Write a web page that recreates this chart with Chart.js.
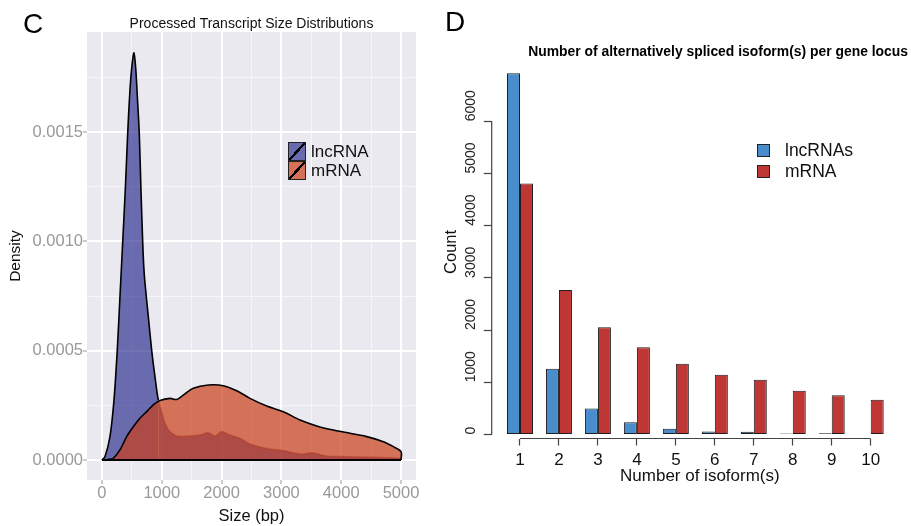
<!DOCTYPE html>
<html>
<head>
<meta charset="utf-8">
<script src="https://cdn.jsdelivr.net/npm/chart.js@4.4.0/dist/chart.umd.min.js"></script>
<style>
  html, body { margin: 0; padding: 0; background: #fff; }
  body { width: 911px; height: 526px; position: relative; overflow: hidden; font-family: "Liberation Sans", Arial, sans-serif; }
  canvas { position: absolute; top: 0; }
  .tag { position: absolute; font-size: 28px; line-height: 28px; color: #000; }
  .legend { position: absolute; color: #111; }
  .legend .row { display: flex; align-items: center; }
</style>
</head>
<body>
<canvas id="density" width="430" height="526" style="left:0"></canvas>
<canvas id="isoforms" width="481" height="526" style="left:430px"></canvas>
<div class="tag" style="left:23px;top:10px">C</div>
<div class="tag" style="left:445px;top:8px">D</div>
<div id="legendC" class="legend" style="left:288px;top:142px"></div>
<div id="legendD" class="legend" style="left:757px;top:139.5px"></div>
<script>
// panel C - size distributions (bp vs density)
const lncSize = [0, 50, 134, 201, 256, 301, 340, 390, 430, 468, 500, 535, 565, 590, 624, 652, 680, 700, 719, 775, 831, 886, 942, 1000, 1054, 1137, 1249, 1360, 1472, 1639, 1778, 1890, 2001, 2140, 2308, 2475, 2754, 3032, 3311, 3506, 3757, 4147, 4593, 5000, 5000];
const lncDensity = [0, 0.000015, 0.000107, 0.000274, 0.000503, 0.000747, 0.00096, 0.001235, 0.001494, 0.001693, 0.0018, 0.001863, 0.00179, 0.00167, 0.001494, 0.001235, 0.001006, 0.00088, 0.00081, 0.000656, 0.000503, 0.000381, 0.000274, 0.00022, 0.000168, 0.00013, 0.00011, 0.000108, 0.00011, 0.000114, 0.000125, 0.00011, 0.00013, 0.000114, 0.000099, 0.000073, 0.000053, 0.000043, 0.000027, 0.000033, 0.000018, 0.000015, 0.000012, 0.000008, 0];
const mrnaSize = [0, 100, 189, 301, 413, 524, 635, 747, 858, 970, 1137, 1249, 1360, 1527, 1778, 2029, 2252, 2475, 2754, 3032, 3311, 3590, 3868, 4147, 4426, 4704, 4872, 5000, 5000];
const mrnaDensity = [0, 0.000002, 0.000008, 0.000046, 0.000107, 0.000152, 0.000191, 0.000221, 0.000252, 0.000272, 0.000282, 0.000277, 0.000297, 0.000328, 0.000343, 0.00034, 0.000317, 0.000282, 0.000247, 0.000221, 0.000183, 0.000156, 0.000137, 0.000122, 0.000107, 0.000084, 0.000061, 0.000038, 0];
const sizeTicks = [0, 500, 1000, 1500, 2000, 2500, 3000, 3500, 4000, 4500, 5000];
const densityTicks = [0, 0.00025, 0.0005, 0.00075, 0.001, 0.00125, 0.0015, 0.00175];

// panel D - isoforms per gene locus
const isoforms = [1, 2, 3, 4, 5, 6, 7, 8, 9, 10];
const lncCounts = [6920, 1260, 500, 235, 110, 55, 50, 20, 22, 8];
const mrnaCounts = [4810, 2770, 2055, 1670, 1355, 1145, 1050, 840, 750, 665];
const countTicks = [0, 1000, 2000, 3000, 4000, 5000, 6000];

Chart.defaults.font.family = '"Liberation Sans", Arial, sans-serif';
Chart.defaults.color = '#111';

const pts = (xs, ys) => xs.map((x, i) => ({x, y: ys[i]}));

// grey ggplot-like panel behind the grid
const panelBg = {
  id: 'panelBg',
  beforeDraw(chart, args, opts) {
    const {ctx, chartArea: a} = chart;
    ctx.save();
    ctx.fillStyle = opts.color;
    ctx.fillRect(a.left, a.top, a.right - a.left, a.bottom - a.top);
    ctx.restore();
  }
};

// base R style axis lines: only from first to last tick
const rAxes = {
  id: 'rAxes',
  afterDraw(chart) {
    const {ctx, chartArea: a, scales: {x, y}} = chart;
    const xs = x.ticks.map(t => x.getPixelForValue(t.value));
    const ys = y.ticks.map(t => y.getPixelForValue(t.value));
    ctx.save();
    ctx.strokeStyle = '#444';
    ctx.lineWidth = 1.2;
    ctx.beginPath();
    ctx.moveTo(xs[0], a.bottom);
    ctx.lineTo(xs[xs.length - 1], a.bottom);
    ctx.moveTo(a.left, ys[0]);
    ctx.lineTo(a.left, ys[ys.length - 1]);
    ctx.stroke();
    ctx.restore();
  }
};

const ggGrid = {
  color: c => c.index % 2 ? 'rgba(255,255,255,0.6)' : '#fff',
  lineWidth: c => c.index % 2 ? 1 : 2,
  tickColor: c => c.index % 2 ? 'rgba(0,0,0,0)' : '#9a9a9a',
  tickLength: 4,
  tickWidth: 1
};

const densityChart = new Chart(document.getElementById('density'), {
  type: 'line',
  data: {
    datasets: [
      {
        label: 'lncRNA', data: pts(lncSize, lncDensity), order: 1, fill: 'origin',
        backgroundColor: 'rgba(21,21,130,0.6)', borderColor: '#000', borderWidth: 1.6,
        segment: { borderColor: c => c.p0.parsed.x >= 942 ? 'rgba(110,30,45,0.45)' : undefined }
      },
      {
        label: 'mRNA', data: pts(mrnaSize, mrnaDensity), order: 0, fill: 'origin',
        backgroundColor: 'rgba(203,63,26,0.7)', borderColor: '#000', borderWidth: 1.6
      },
      { label: '', data: pts([0, 5000], [0, 0]), order: -1, fill: false, borderColor: '#000', borderWidth: 1.8 }
    ]
  },
  options: {
    responsive: false,
    animation: false,
    layout: { padding: { left: 0, right: 14, top: 0, bottom: 0 } },
    elements: { point: { radius: 0 }, line: { tension: 0.3 } },
    scales: {
      x: {
        type: 'linear', min: -250, max: 5250, bounds: 'data',
        afterBuildTicks: s => { s.ticks = sizeTicks.map(v => ({value: v})); },
        afterFit: s => { s.height = 46; },
        border: { display: false },
        grid: ggGrid,
        ticks: { autoSkip: false, maxRotation: 0, padding: 0, color: '#999', font: { size: 16.5 },
          callback: (v, i) => i % 2 ? '' : String(v) },
        title: { display: true, text: 'Size (bp)', color: '#111', font: { size: 16.5 }, padding: { top: 0, bottom: 0 } }
      },
      y: {
        type: 'linear', min: -0.0000915, max: 0.001958, bounds: 'data',
        afterBuildTicks: s => { s.ticks = densityTicks.map(v => ({value: v})); },
        afterFit: s => { s.width = 87; },
        border: { display: false },
        grid: ggGrid,
        ticks: { autoSkip: false, padding: 0, color: '#999', font: { size: 16.5 },
          callback: (v, i) => i % 2 ? '' : v.toFixed(4) },
        title: { display: true, text: 'Density', color: '#111', font: { size: 15.5 }, padding: { top: 6.7, bottom: 0 } }
      }
    },
    plugins: {
      panelBg: { color: '#e9e9ef' },
      legend: { display: false },
      tooltip: { enabled: false },
      title: {
        display: true, fullSize: false, text: 'Processed Transcript Size Distributions',
        color: '#111', font: { size: 14, weight: 'normal' }, padding: { top: 15.6, bottom: -0.4 }
      }
    }
  },
  plugins: [panelBg]
});

const isoformChart = new Chart(document.getElementById('isoforms'), {
  type: 'bar',
  data: {
    datasets: [
      { label: 'lncRNAs', data: pts(isoforms, lncCounts), backgroundColor: '#4a8dcc' },
      { label: 'mRNA', data: pts(isoforms, mrnaCounts), backgroundColor: '#be3734' }
    ]
  },
  options: {
    responsive: false,
    animation: false,
    layout: { padding: { left: 0, right: 3, top: 0, bottom: 0 } },
    datasets: { bar: { barPercentage: 1, categoryPercentage: 0.667, borderWidth: 1, borderColor: '#1e1e1e', borderSkipped: false } },
    scales: {
      x: {
        type: 'linear', offset: false, min: 0.274, max: 10.957, bounds: 'data',
        afterBuildTicks: s => { s.ticks = isoforms.map(v => ({value: v})); },
        afterFit: s => { s.height = 87.5; },
        border: { display: false },
        grid: { offset: false, drawOnChartArea: false, tickLength: 7, tickColor: '#444', tickWidth: 1.2 },
        ticks: { autoSkip: false, maxRotation: 0, padding: 5, color: '#111', font: { size: 17 }, callback: v => String(v) },
        title: { display: true, text: 'Number of isoform(s)', color: '#111', font: { size: 17 }, padding: { top: 0, bottom: 39 } }
      },
      y: {
        type: 'linear', min: -77, max: 7071, bounds: 'data',
        afterBuildTicks: s => { s.ticks = countTicks.map(v => ({value: v})); },
        afterFit: s => { s.width = 61.7; },
        border: { display: false },
        grid: { drawOnChartArea: false, tickLength: 8, tickColor: '#444', tickWidth: 1.2 },
        // R prints these parallel to the axis, starting at the tick
        ticks: { autoSkip: false, minRotation: 90, maxRotation: 90, mirror: true, crossAlign: 'near', padding: -20.7,
          color: '#222', font: { size: 14 }, callback: v => String(v) },
        title: { display: true, text: 'Count', color: '#111', font: { size: 16.5 }, padding: { top: 11.1, bottom: 0 } }
      }
    },
    plugins: {
      legend: { display: false },
      tooltip: { enabled: false },
      title: {
        display: true, align: 'end', text: 'Number of alternatively spliced isoform(s) per gene locus',
        color: '#000', font: { size: 13.9, weight: 'bold' }, padding: { top: 43.35, bottom: 5.35 }
      }
    }
  },
  plugins: [rAxes]
});

// html legends built from the chart datasets
function htmlLegend(chart, id, keyStyle, rowHeight, gap, fontSize) {
  const box = document.getElementById(id);
  chart.data.datasets.filter(d => d.label).forEach(d => {
    const row = document.createElement('div');
    row.className = 'row';
    row.style.height = rowHeight + 'px';
    const sw = document.createElement('span');
    Object.assign(sw.style, keyStyle(d));
    const txt = document.createElement('span');
    txt.textContent = d.label;
    txt.style.marginLeft = gap + 'px';
    txt.style.fontSize = fontSize + 'px';
    txt.style.lineHeight = rowHeight + 'px';
    row.append(sw, txt);
    box.append(row);
  });
}

htmlLegend(densityChart, 'legendC', d => ({
  display: 'block', boxSizing: 'border-box', width: '18px', height: '19px', border: '1px solid #222',
  background: 'linear-gradient(to bottom right, transparent 45%, #000 45%, #000 55%, transparent 55%), ' + d.backgroundColor
}), 19, 5, 17);

htmlLegend(isoformChart, 'legendD', d => ({
  display: 'block', boxSizing: 'border-box', width: '13px', height: '13px', border: '1px solid #222',
  background: d.backgroundColor
}), 21, 15, 17.5);
</script>
</body>
</html>
